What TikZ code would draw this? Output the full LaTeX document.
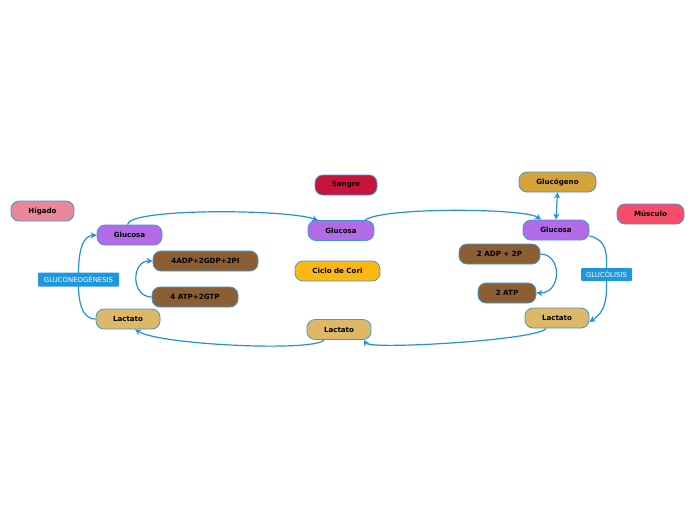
\documentclass[tikz,border=0pt]{standalone}
\usepackage{fontspec}
\setmainfont{DejaVu Sans}
\usetikzlibrary{arrows.meta,backgrounds}
\definecolor{cPurple}{HTML}{B36AE6}
\definecolor{cBrown}{HTML}{8B5E34}
\definecolor{cLact}{HTML}{DDB866}
\definecolor{cCori}{HTML}{FDB714}
\definecolor{cSangre}{HTML}{C8143A}
\definecolor{cHigado}{HTML}{E8889A}
\definecolor{cGlucog}{HTML}{D4A33A}
\definecolor{cMusc}{HTML}{F54D6A}
\definecolor{cLine}{HTML}{2390DB}
\definecolor{cBorder}{HTML}{3C9AD8}
\definecolor{cLbl}{HTML}{1E96E0}
\begin{document}
\begin{tikzpicture}[x=1pt,y=-1pt,
  box/.style={draw=cBorder,line width=0.8pt,rounded corners=8pt,minimum height=20pt,
    inner sep=0pt,font=\fontsize{7.1}{8}\selectfont\bfseries,text=black},
  lbl/.style={fill=cLbl,text=white,rounded corners=1pt,inner sep=0pt,minimum height=14pt,
    font=\fontsize{6.9}{8}\selectfont},
  conn/.style={draw=cLine,line width=1.2pt},
  tip/.style={-{Stealth[length=6pt,width=6pt]}}]
\useasboundingbox (0,0) rectangle (696,520);
% nodes
\node[box,fill=cHigado,minimum width=63pt] (hig) at (42.5,211) {Hígado};
\node[box,fill=cSangre,minimum width=62pt] (san) at (346,185) {Sangre};
\node[box,fill=cGlucog,minimum width=77pt] (glg) at (557.5,182) {Glucógeno};
\node[box,fill=cMusc,minimum width=67pt] (mus) at (650.5,214) {Músculo};
\node[box,fill=cPurple,minimum width=65pt] (gL) at (129.5,235) {Glucosa};
\node[box,fill=cPurple,minimum width=66pt] (gC) at (341,230.5) {Glucosa};
\node[box,fill=cPurple,minimum width=66pt] (gR) at (556,230) {Glucosa};
\node[box,fill=cBrown,minimum width=105pt] (adp4) at (205.5,261) {4ADP+2GDP+2PI};
\node[box,fill=cBrown,minimum width=86pt] (atp4) at (195,297) {4 ATP+2GTP};
\node[box,fill=cCori,minimum width=85pt] (cori) at (337.5,271) {Ciclo de Cori};
\node[box,fill=cBrown,minimum width=81pt] (adp2) at (499.5,254) {2 ADP + 2P};
\node[box,fill=cBrown,minimum width=58pt] (atp2) at (507,293) {2 ATP};
\node[box,fill=cLact,minimum width=64pt] (lL) at (128,319) {Lactato};
\node[box,fill=cLact,minimum width=64pt] (lC) at (339,329.5) {Lactato};
\node[box,fill=cLact,minimum width=64pt] (lR) at (557,318) {Lactato};
\node[lbl,minimum width=81pt] (gneo) at (78.5,279.5) {GLUCONEOGÉNESIS};
\node[lbl,minimum width=51pt,minimum height=13pt] (glic) at (606.5,274.5) {GLUCÓLISIS};
% connectors
\begin{scope}[on background layer]
\draw[conn,tip] ([xshift=-2pt]gL.north) .. controls (128,208) and (285,209) .. ([xshift=-23pt]gC.north);
\draw[conn,tip] ([xshift=24pt]gC.north) .. controls (382,207) and (525,208) .. ([xshift=-15pt]gR.north);
\draw[conn,{Stealth[length=6pt,width=6pt]}-{Stealth[length=6pt,width=6pt]}] (glg.south) -- (gR.north);
\draw[conn,tip] ([yshift=-6pt]gR.east) .. controls (607,240) and (607,252) .. (glic.center)
   .. controls (607,300) and (606,311) .. ([yshift=-4pt]lR.east);
\draw[conn,tip] (adp2.east) .. controls (562,254) and (562,293) .. (atp2.east);
\draw[conn,tip] (atp4.west) .. controls (131,297) and (131,261) .. (adp4.west);
\draw[conn,tip] (lL.west) .. controls (81,319) and (78,300) .. (gneo.center)
   .. controls (78,252) and (82,236) .. (gL.west);
\draw[conn,tip] ([xshift=-11pt]lR.south) .. controls (540,340) and (370,350) .. ([xshift=25pt]lC.south);
\draw[conn,tip] ([xshift=-15pt]lC.south) .. controls (315,352) and (160,345) .. ([xshift=7pt]lL.south);
\end{scope}
\end{tikzpicture}
\end{document}
